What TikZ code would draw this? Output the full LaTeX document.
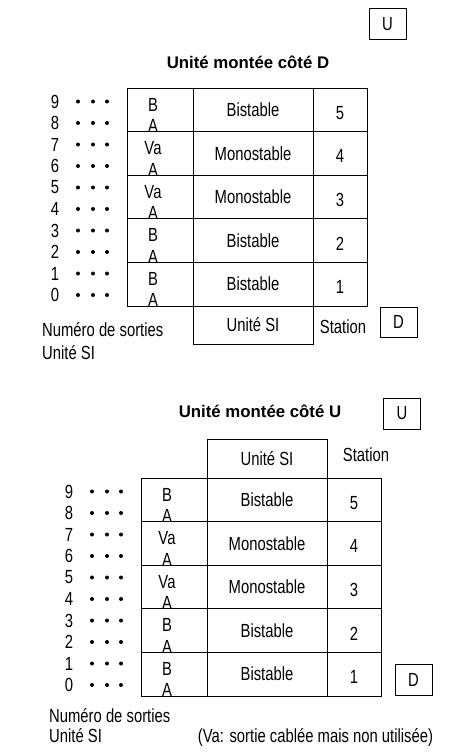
\documentclass[tikz,border=0pt]{standalone}
\usepackage{fontspec}
\setmainfont{Liberation Sans}[FakeStretch=0.78]
\newfontfamily\titlefont{Liberation Sans}
\usepackage{tikz}
\usetikzlibrary{positioning,calc}

\begin{document}
\begin{tikzpicture}[
  x=1pt, y=-1pt,
  cell/.style={draw, line width=1pt, minimum height=43.6pt, inner sep=0pt, font=\fontsize{19}{22}\selectfont},
  lab/.style={inner sep=0pt, font=\fontsize{19}{22}\selectfont},
  side/.style={draw, line width=1pt, minimum width=37pt, minimum height=31pt, inner sep=0pt, font=\fontsize{19}{22}\selectfont},
  title/.style={inner sep=0pt, font=\titlefont\bfseries\fontsize{16.8}{20}\selectfont},
  pin/.style={circle, fill, inner sep=0pt, minimum size=4pt}
]
\useasboundingbox (0,0) rectangle (452,752);

% the two tables (D side, then U side shifted)
\foreach \t/\ox/\oy in {D/0/0, U/14/390} {
  \begin{scope}[shift={(\ox,\oy)}]
  \foreach \s/\kind/\hi [count=\i] in {5/Bistable/B, 4/Monostable/Va, 3/Monostable/Va, 2/Bistable/B, 1/Bistable/B} {
    \pgfmathsetmacro\yc{88+(\i-0.5)*43.6}
    \node[cell, minimum width=66pt] (io-\t-\s) at (160,\yc) {};
    \node[cell, minimum width=120pt] (kind-\t-\s) at (253,\yc) {\kind};
    \node[cell, minimum width=54pt] (st-\t-\s) at (340,\yc) {};
    \node[lab] at ($(st-\t-\s.center)+(0,3)$) {\s};
    \node[lab] (hi-\t-\s) at ($(io-\t-\s.north)+(-7,17)$) {\hi};
    \node[lab] (lo-\t-\s) at ($(io-\t-\s.north)+(-7,38.5)$) {A};
  }
  % output numbers
  \foreach \n in {0,...,9} {
    \pgfmathsetmacro\yn{101.5+(9-\n)*21.5}
    \node[lab] (out-\t-\n) at (55,\yn) {\n};
    \foreach \dx in {78,93,107}
      \node[pin] at (\dx,\yn) {};
  }
  \end{scope}
}

% side D
\node[side] (u-top) at (387.5,24.5) {U};
\node[title] (title-D) at (248,62) {Unité montée côté D};
\node[cell, minimum width=120pt, minimum height=38pt] (si-D) at (253,325) {Unité SI};
\node[lab] (station-D) at (343,327) {Station};
\node[side, minimum height=30pt] (d-top) at (398.5,322) {D};
\node[lab, anchor=west] (num-D) at (42,330) {Numéro de sorties};
\node[lab, anchor=west] (unit-D) at (42,353) {Unité SI};

% side U
\node[title] (title-U) at (260,411) {Unité montée côté U};
\node[side] (u-bot) at (402,413.5) {U};
\node[cell, minimum width=120pt, minimum height=39pt] (si-U) at (267,458.5) {Unité SI};
\node[lab] (station-U) at (366,455) {Station};
\node[side] (d-bot) at (413.5,679.5) {D};
\node[lab, anchor=west] (num-U) at (49,716) {Numéro de sorties};
\node[lab, anchor=west] (unit-U) at (49,736) {Unité SI};
\node[lab] (note) at (315.5,737) {(Va: sortie cablée mais non utilisée)};
\end{tikzpicture}
\end{document}
